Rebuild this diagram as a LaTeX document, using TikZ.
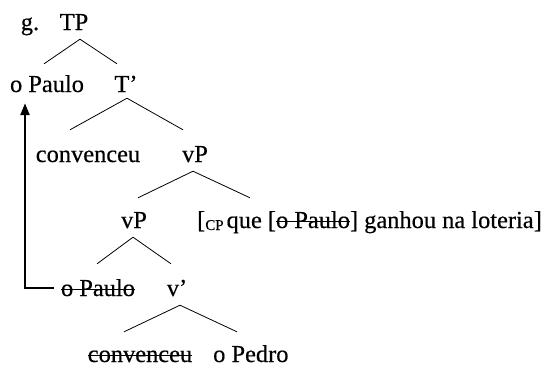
\documentclass[tikz,border=0pt]{standalone}
\usepackage{fontspec}
\setmainfont{Liberation Serif}[FakeBold=0.4]
\usetikzlibrary{arrows.meta}
\newsavebox\strkbox
% struck-through text: a rule laid across the middle of the x-height
\newcommand\strk[1]{\sbox\strkbox{#1}\rlap{\rule[0.24em]{\wd\strkbox}{1.1bp}}\usebox\strkbox}
\newcommand\cpsub{{\fontsize{15}{15}\selectfont\raisebox{-2bp}{CP}}}
\begin{document}
\begin{tikzpicture}[x=1bp,y=-1bp,
  lbl/.style={anchor=base,inner xsep=2bp,inner ysep=5bp,text height=15bp,text depth=4bp,
    font=\fontsize{24.5}{26}\selectfont},
  branch/.style={line width=0.8bp},
  mvarrow/.style={line width=2.4bp,-{Triangle[length=12bp,width=9bp]}}]
\useasboundingbox (0,0) rectangle (547,367);
% labels, placed on their baselines
\node[lbl] (g) at (30,30) {g.};
\node[lbl] (tp) at (74,30) {TP};
\node[lbl] (op) at (47,92) {o Paulo};
\node[lbl] (tb) at (126,92) {T’};
\node[lbl] (cv1) at (88,162) {convenceu};
\node[lbl] (vp1) at (195,162) {vP};
\node[lbl] (vp2) at (134,228) {vP};
\node[lbl,anchor=base west] (cp) at (195,228) {[\cpsub\hspace{3bp}que [\strk{o Paulo}] ganhou na loteria]};
\node[lbl] (ops) at (98,296) {\strk{o Paulo}};
\node[lbl] (vb) at (177,296) {v’};
\node[lbl] (cv2) at (140,362) {\strk{convenceu}};
\node[lbl,anchor=base west] (pd) at (211,362) {o Pedro};
% branches
\draw[branch] ([xshift=6bp]tp.south) -- ([xshift=-3bp,yshift=8bp]op.north);
\draw[branch] ([xshift=6bp]tp.south) -- ([xshift=-9bp,yshift=8bp]tb.north);
\draw[branch] ([xshift=1bp,yshift=3bp]tb.south) -- ([xshift=-18bp,yshift=12bp]cv1.north);
\draw[branch] ([xshift=1bp,yshift=3bp]tb.south) -- ([xshift=-12bp,yshift=12bp]vp1.north);
\draw[branch] ([xshift=-2bp]vp1.south) -- ([xshift=4bp,yshift=10bp]vp2.north);
\draw[branch] ([xshift=-2bp]vp1.south) -- ([xshift=55bp,yshift=10bp]cp.north west);
\draw[branch] ([xshift=-1bp]vp2.south) -- ([xshift=-1bp,yshift=12bp]ops.north);
\draw[branch] ([xshift=-1bp]vp2.south) -- ([xshift=-6bp,yshift=12bp]vb.north);
\draw[branch] ([xshift=3bp]vb.south) -- ([xshift=-16bp,yshift=10bp]cv2.north);
\draw[branch] ([xshift=3bp]vb.south) -- ([xshift=26bp,yshift=10bp]pd.north west);
% movement arrow
\coordinate (mvstart) at ([xshift=-5bp,yshift=8bp]ops.base west);
\draw[mvarrow] (mvstart) -| ([xshift=-22bp,yshift=-2bp]op.south);
\end{tikzpicture}
\end{document}
